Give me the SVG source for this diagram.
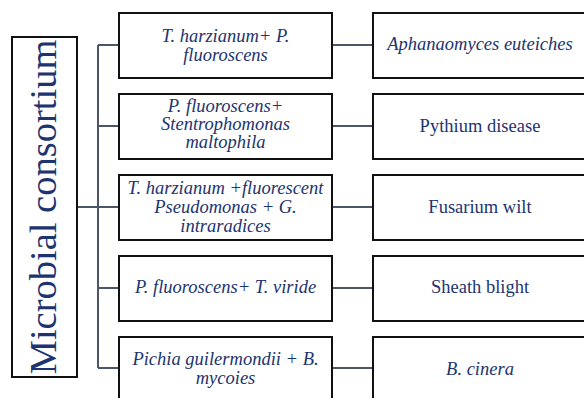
<svg xmlns="http://www.w3.org/2000/svg" width="584" height="398" viewBox="0 0 584 398">
<style>
.box{fill:#fff;stroke:#111;stroke-width:2}
.conn{stroke:#4b5668;stroke-width:2;fill:none}
.t{font-family:"Liberation Serif","Times New Roman",serif;font-size:18.5px;fill:#1c3470;text-anchor:middle}
.i{font-style:italic}
</style>
<rect width="584" height="398" fill="#fff"/>
<g id="connectors">
<path class="conn" d="M77,207 H98 M98,45 V368 M98,45 H119 M98,126 H119 M98,207 H119 M98,288 H119 M98,368 H119"/>
<path class="conn" d="M332,45 H373 M332,126 H373 M332,207 H373 M332,288 H373 M332,368 H373"/>
</g>
<g id="root">
<rect class="box" x="12" y="37" width="65" height="340"/>
<text class="t" transform="translate(56,207) rotate(-90)" style="font-size:38.5px" text-anchor="middle">Microbial consortium</text>
</g>
<g id="c1">
<rect class="box" x="119" y="13" width="213" height="65"/>
<text class="t i" x="225.5" y="42">T. harzianum+ P.</text>
<text class="t i" x="225.5" y="61">fluoroscens</text>
</g>
<g id="c2">
<rect class="box" x="119" y="94" width="213" height="65"/>
<text class="t i" x="225.5" y="112">P. fluoroscens+</text>
<text class="t i" x="225.5" y="130">Stentrophomonas</text>
<text class="t i" x="225.5" y="148">maltophila</text>
</g>
<g id="c3">
<rect class="box" x="119" y="175" width="213" height="65"/>
<text class="t i" x="225.5" y="194">T. harzianum +fluorescent</text>
<text class="t i" x="225.5" y="213">Pseudomonas + G.</text>
<text class="t i" x="225.5" y="232">intraradices</text>
</g>
<g id="c4">
<rect class="box" x="119" y="256" width="213" height="65"/>
<text class="t i" x="225.5" y="293">P. fluoroscens+ T. viride</text>
</g>
<g id="c5">
<rect class="box" x="119" y="337" width="213" height="65"/>
<text class="t i" x="225.5" y="365">Pichia guilermondii + B.</text>
<text class="t i" x="225.5" y="384">mycoies</text>
</g>
<g id="d1">
<rect class="box" x="373" y="13" width="215" height="65"/>
<text class="t i" x="480" y="50">Aphanaomyces euteiches</text>
</g>
<g id="d2">
<rect class="box" x="373" y="94" width="215" height="65"/>
<text class="t" x="480" y="132">Pythium disease</text>
</g>
<g id="d3">
<rect class="box" x="373" y="175" width="215" height="65"/>
<text class="t" x="480" y="213">Fusarium wilt</text>
</g>
<g id="d4">
<rect class="box" x="373" y="256" width="215" height="65"/>
<text class="t" x="480" y="293">Sheath blight</text>
</g>
<g id="d5">
<rect class="box" x="373" y="337" width="215" height="65"/>
<text class="t i" x="480" y="375">B. cinera</text>
</g>
</svg>
